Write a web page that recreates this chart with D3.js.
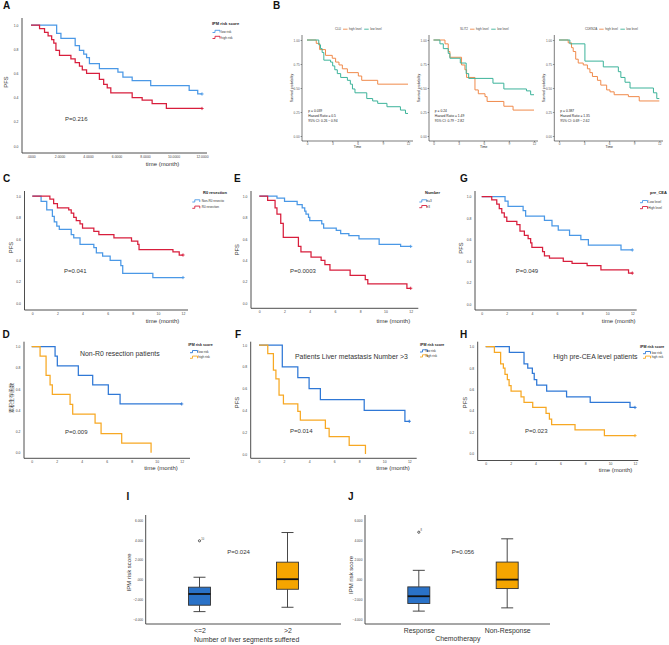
<!DOCTYPE html>
<html><head><meta charset="utf-8">
<script src="https://cdn.jsdelivr.net/npm/d3@7/dist/d3.min.js"></script>
<style>html,body{margin:0;padding:0;background:#fff}svg{display:block}</style>
</head><body>
<svg id="chart" width="669" height="645" xmlns="http://www.w3.org/2000/svg"></svg>
<script>
// ---------------- DATA ----------------
const timeTicks = [0, 2, 4, 6, 8, 10, 12];
const survTicks = [0, 0.2, 0.4, 0.6, 0.8, 1.0];
const ggTimeTicks = [0, 3, 6, 9, 12];
const ggSurvTicks = [0, 0.25, 0.5, 0.75, 1];
const boxTicks = [-4, -2, 0, 2, 4, 6];

// A: IPM risk score
const kmA_low = [[0,1],[1.8,0.93],[2.1,0.89],[3.1,0.83],[3.4,0.79],[3.7,0.76],[3.9,0.73],[4.1,0.68],[4.8,0.64],[6.1,0.61],[6.45,0.57],[7.1,0.54],[8.4,0.50],[11.1,0.46],[11.7,0.43],[12,0.43]];
const kmA_high = [[0,1],[0.6,0.97],[0.95,0.94],[1.2,0.91],[1.45,0.88],[1.6,0.85],[1.75,0.79],[2.0,0.75],[2.8,0.72],[3.1,0.69],[3.4,0.66],[3.6,0.63],[3.9,0.60],[4.8,0.55],[5.1,0.51],[5.35,0.48],[5.6,0.44],[7.1,0.40],[7.8,0.38],[8.5,0.35],[9.5,0.31],[12,0.31]];
// B: three genes (high / low level)
const kmB1_high = [[0,1],[1.1,0.965],[1.5,0.90],[2.2,0.84],[3.0,0.81],[3.4,0.77],[3.8,0.74],[4.2,0.70],[4.8,0.66],[6.1,0.625],[6.5,0.58],[8.4,0.54],[12,0.54]];
const kmB1_low = [[0,1],[1.4,0.95],[1.6,0.91],[1.8,0.87],[2.0,0.79],[2.8,0.77],[3.05,0.73],[3.3,0.69],[3.6,0.65],[4.0,0.61],[4.8,0.58],[5.15,0.54],[5.4,0.49],[5.7,0.45],[7.1,0.39],[7.8,0.365],[8.4,0.34],[9.5,0.305],[11.1,0.27],[11.7,0.235],[12,0.235]];
const kmB2_high = [[0,1],[1.37,0.96],[1.76,0.88],[1.96,0.82],[3.35,0.74],[3.75,0.69],[3.95,0.61],[4.95,0.48],[5.35,0.44],[6.15,0.41],[6.4,0.36],[8.4,0.31],[9.5,0.27],[12,0.27]];
const kmB2_low = [[0,1],[0.77,0.96],[1.17,0.91],[1.76,0.86],[1.96,0.81],[3.2,0.76],[3.9,0.65],[4.2,0.60],[7.1,0.55],[8.4,0.49],[11.1,0.47],[11.6,0.43],[12,0.43]];
const kmB3_high = [[0,1],[1.1,0.97],[1.5,0.92],[1.7,0.88],[2.0,0.80],[2.3,0.76],[2.9,0.74],[3.4,0.70],[3.7,0.66],[4.0,0.62],[4.6,0.58],[5.0,0.53],[5.7,0.48],[6.1,0.46],[6.6,0.43],[8.3,0.41],[9.6,0.365],[12,0.365]];
const kmB3_low = [[0,1],[1.3,0.96],[3.1,0.78],[5.3,0.72],[7.1,0.67],[7.4,0.61],[7.9,0.56],[8.5,0.50],[11.3,0.45],[11.7,0.39],[12,0.39]];
// C: R0 resection
const kmC_nonR0 = [[0,1],[0.7,0.95],[1.15,0.87],[1.6,0.81],[1.75,0.76],[1.95,0.72],[2.15,0.69],[3.1,0.64],[3.3,0.61],[3.8,0.55],[4.9,0.52],[5.1,0.47],[5.6,0.44],[6.2,0.40],[7.05,0.35],[7.2,0.28],[9.6,0.24],[12,0.24]];
const kmC_R0 = [[0,1],[1.4,0.97],[1.7,0.93],[2.0,0.89],[2.9,0.87],[3.1,0.84],[3.3,0.80],[3.5,0.77],[3.8,0.74],[4.0,0.70],[4.9,0.67],[5.3,0.64],[6.5,0.61],[7.9,0.58],[8.4,0.55],[8.5,0.50],[11.2,0.48],[11.7,0.45],[12,0.45]];
// E: Number
const kmE_le3 = [[0,1],[1.4,0.98],[2.0,0.95],[3.0,0.92],[3.4,0.89],[3.6,0.86],[3.7,0.83],[3.9,0.80],[4.0,0.77],[4.95,0.74],[5.1,0.70],[6.1,0.68],[6.45,0.65],[7.1,0.63],[7.9,0.60],[9.5,0.55],[11.2,0.53],[12,0.53]];
const kmE_gt3 = [[0,1],[0.66,0.96],[1.25,0.89],[1.4,0.83],[1.7,0.745],[1.9,0.615],[3.1,0.53],[3.3,0.48],[4.1,0.43],[4.9,0.40],[5.2,0.36],[5.6,0.31],[7.2,0.26],[8.4,0.22],[8.6,0.18],[11.7,0.14],[12,0.14]];
// G: pre_CEA
const kmG_low = [[0,1],[1.86,0.96],[2.1,0.91],[3.3,0.87],[3.5,0.82],[5.0,0.78],[5.6,0.73],[6.1,0.69],[7.0,0.64],[7.9,0.60],[8.5,0.55],[11.1,0.505],[12,0.505]];
const kmG_high = [[0,1],[0.8,0.97],[1.2,0.93],[1.4,0.89],[1.6,0.85],[1.8,0.81],[2.0,0.77],[2.8,0.74],[3.05,0.68],[3.4,0.64],[3.7,0.61],[3.9,0.57],[4.0,0.53],[4.85,0.49],[5.0,0.45],[5.4,0.43],[6.5,0.40],[7.2,0.38],[8.4,0.36],[9.5,0.32],[11.7,0.29],[12,0.29]];
// D: Non-R0 resection patients
const kmD_low = [[0,1],[1.87,0.91],[2.05,0.82],[3.73,0.73],[4.88,0.64],[6.13,0.55],[7.07,0.46],[12,0.46]];
const kmD_high = [[0,1],[0.67,0.91],[1.15,0.73],[1.47,0.64],[1.65,0.55],[3.07,0.455],[3.28,0.365],[5.07,0.28],[5.55,0.18],[7.2,0.09],[9.55,0]];
// F: Liver metastasis number >3
const kmF_low = [[0,1],[1.86,0.80],[3.1,0.70],[4.0,0.60],[4.9,0.50],[8.4,0.40],[11.65,0.30],[12,0.30]];
const kmF_high = [[0,1],[0.7,0.92],[1.15,0.77],[1.35,0.69],[1.6,0.54],[1.95,0.46],[3.1,0.39],[3.3,0.31],[5.3,0.235],[5.6,0.16],[7.2,0.08],[8.5,0]];
// H: High pre-CEA level patients
const kmH_low = [[0,1],[1.9,0.947],[3.08,0.84],[3.38,0.80],[3.75,0.75],[3.9,0.69],[4.1,0.64],[4.9,0.584],[6.5,0.53],[8.4,0.478],[11.6,0.43],[12,0.43]];
const kmH_high = [[0,1],[0.7,0.947],[1.2,0.84],[1.42,0.80],[1.55,0.74],[1.74,0.69],[1.88,0.634],[2.04,0.584],[2.84,0.53],[3.08,0.478],[3.78,0.43],[4.85,0.375],[5.12,0.32],[5.3,0.27],[7.18,0.22],[9.54,0.166],[12,0.166]];

// I / J box plots
const boxI_cats = ['<=2', '>2'];
const boxI_whiskLow = [-3.25, -2.81];
const boxI_q1 = [-2.6, -0.98];
const boxI_median = [-1.46, 0.04];
const boxI_q3 = [-0.77, 1.77];
const boxI_whiskHigh = [0.24, 4.78];
const boxI_outliers = [['<=2', 3.94, '10']];
const boxJ_cats = ['Response', 'Non-Response'];
const boxJ_whiskLow = [-3.2, -2.87];
const boxJ_q1 = [-2.43, -0.91];
const boxJ_median = [-1.69, 0.0];
const boxJ_q3 = [-0.74, 1.78];
const boxJ_whiskHigh = [0.94, 4.14];
const boxJ_outliers = [['Response', 4.81, '8']];

// ---------------- DRAWING ----------------
const FONT = '"Liberation Sans", Arial, Helvetica, sans-serif';
const COL = {
  spBlue: '#4a98e6', spRed: '#d81e3c', dBlue: '#2f78d6', dOrange: '#f7a823',
  ggOrange: '#f08a4b', ggGreen: '#3cb39a', bxBlue: '#2a72c8', bxOrange: '#f5a500'
};
const svg = d3.select('#chart');
svg.append('rect').attr('width', 669).attr('height', 645).attr('fill', '#fff');

function txt(g, x, y, s, size, o = {}) {
  const t = g.append('text').attr('x', x).attr('y', y).text(s)
    .attr('font-size', size).attr('font-family', o.font || FONT).attr('fill', o.fill || '#222');
  if (o.anchor) t.attr('text-anchor', o.anchor);
  if (o.weight) t.attr('font-weight', o.weight);
  if (o.rotate) t.attr('transform', `rotate(-90,${x},${y})`);
  return t;
}

function styleAxisText(sel, size, fill) {
  sel.selectAll('text').attr('font-size', size).attr('font-family', FONT).attr('fill', fill);
}

function kmPanel(o) {
  const g = svg.append('g');
  const x = d3.scaleLinear().domain([0, 12]).range([o.t0, o.t12]);
  const y = d3.scaleLinear().domain([0, 1]).range([o.s0, o.s1]);
  g.append('path').attr('d', `M${o.ax},${o.top}V${o.ay}H${o.right}`)
    .attr('fill', 'none').attr('stroke', '#3a3a3a').attr('stroke-width', 0.9);
  const ya = g.append('g').attr('transform', `translate(${o.ax},0)`)
    .call(d3.axisLeft(y).tickValues(survTicks).tickFormat(d3.format('.1f')).tickSize(0).tickPadding(3.5));
  ya.select('.domain').remove();
  styleAxisText(ya, 3.4, '#444');
  const xa = g.append('g').attr('transform', `translate(0,${o.ay})`)
    .call(d3.axisBottom(x).tickValues(timeTicks).tickFormat(o.xFmt || d3.format('d')).tickSize(0).tickPadding(o.xPad || 2.6));
  xa.select('.domain').remove();
  styleAxisText(xa, 3.4, '#444');
  const line = d3.line().x(d => x(d[0])).y(d => y(d[1])).curve(d3.curveStepAfter);
  o.series.forEach(s => {
    g.append('path').datum(s.data).attr('d', line).attr('fill', 'none')
      .attr('stroke', s.color).attr('stroke-width', 1.25);
    const last = s.data[s.data.length - 1];
    if (last[1] > 0) {
      const cx = x(last[0]), cy = y(last[1]);
      g.append('path').attr('d', `M${cx - 1.6},${cy}h3.2M${cx},${cy - 1.6}v3.2`)
        .attr('stroke', s.color).attr('stroke-width', 0.9);
    }
  });
  // legend
  const L = o.legend;
  txt(g, L.tx, L.ty, L.title, L.titleSize || 4, { weight: 'bold', fill: '#222' });
  L.items.forEach((it, i) => {
    const yy = L.iy[i];
    g.append('path').attr('d', `M${L.sx},${yy + 1}h2.5v-2.2h5v2.2`)
      .attr('fill', 'none').attr('stroke', o.series[i].color).attr('stroke-width', 0.9);
    txt(g, L.lx, yy + 1.1, it, 3.1, { fill: '#333' });
  });
  // labels
  txt(g, o.yLab.x, o.yLab.y, o.yLab.text, o.yLab.size || 5.8, { anchor: 'middle', rotate: true, fill: '#333', font: o.yLab.font });
  txt(g, o.xLab.x, o.xLab.y, 'time (month)', 6, { anchor: 'middle', fill: '#333' });
  txt(g, o.p.x, o.p.y, o.p.text, 6, { fill: '#333' });
  if (o.title) txt(g, o.title.x, o.title.y, o.title.text, 6.9, { fill: '#333' });
}

function ggKM(o) {
  const g = svg.append('g');
  const x = d3.scaleLinear().domain([0, 12]).range([o.t0, o.t12]);
  const y = d3.scaleLinear().domain([0, 1]).range([136, 40]);
  g.append('line').attr('x1', o.ax).attr('x2', o.ax).attr('y1', 35).attr('y2', 141).attr('stroke', '#222').attr('stroke-width', 0.6);
  g.append('line').attr('x1', o.ax).attr('x2', o.right).attr('y1', 141).attr('y2', 141).attr('stroke', '#222').attr('stroke-width', 0.6);
  const ya = g.append('g').attr('transform', `translate(${o.ax},0)`)
    .call(d3.axisLeft(y).tickValues(ggSurvTicks).tickFormat(d3.format('.2f')).tickSize(1.4).tickPadding(1));
  ya.select('.domain').remove();
  ya.selectAll('line').attr('stroke', '#333').attr('stroke-width', 0.5);
  styleAxisText(ya, 3.1, '#555');
  const xa = g.append('g').attr('transform', `translate(0,141)`)
    .call(d3.axisBottom(x).tickValues(ggTimeTicks).tickFormat(d3.format('d')).tickSize(1.4).tickPadding(0.8));
  xa.select('.domain').remove();
  xa.selectAll('line').attr('stroke', '#333').attr('stroke-width', 0.5);
  styleAxisText(xa, 3.1, '#555');
  const line = d3.line().x(d => x(d[0])).y(d => y(d[1])).curve(d3.curveStepAfter);
  [[o.high, COL.ggOrange], [o.low, COL.ggGreen]].forEach(([d, c]) => {
    g.append('path').datum(d).attr('d', line).attr('fill', 'none').attr('stroke', c).attr('stroke-width', 1);
  });
  txt(g, o.ax - 9.5, 88, 'Survival probability', 3.4, { anchor: 'middle', rotate: true, fill: '#222' });
  txt(g, (o.t0 + o.t12) / 2, 148.3, 'Time', 3.4, { anchor: 'middle', fill: '#222' });
  o.stats.forEach((s, i) => txt(g, o.t0 + 1.3, 112 + i * 5, s, 3.3, { fill: '#222' }));
  // legend
  let lx = o.legX;
  const t1 = txt(g, lx, 30.2, o.gene, 3, { fill: '#444' });
  lx += t1.node().getComputedTextLength() + 2;
  [['high level', COL.ggOrange], ['low level', COL.ggGreen]].forEach(([lab, c]) => {
    g.append('line').attr('x1', lx).attr('x2', lx + 4.5).attr('y1', 29.2).attr('y2', 29.2).attr('stroke', c).attr('stroke-width', 0.9);
    lx += 6;
    const t = txt(g, lx, 30.2, lab, 3, { fill: '#444' });
    lx += t.node().getComputedTextLength() + 2.5;
  });
}

function boxPanel(o) {
  const g = svg.append('g');
  const y = d3.scaleLinear().domain([-4, 6]).range([619, 520.5]);
  const x = d3.scalePoint().domain(o.cats).range([o.c0, o.c1]);
  g.append('path').attr('d', `M${o.ax},${o.top}V${o.ay}H${o.right}`)
    .attr('fill', 'none').attr('stroke', '#3a3a3a').attr('stroke-width', 0.9);
  const ya = g.append('g').attr('transform', `translate(${o.ax},0)`)
    .call(d3.axisLeft(y).tickValues(boxTicks).tickFormat(d => d === 0 ? '.000' : d3.format('.3f')(d)).tickSize(0).tickPadding(2.6));
  ya.select('.domain').remove();
  styleAxisText(ya, 3.2, '#444');
  const xa = g.append('g').attr('transform', `translate(0,${o.ay})`)
    .call(d3.axisBottom(x).tickSize(0).tickPadding(4.4));
  xa.select('.domain').remove();
  styleAxisText(xa, 6.9, '#333');
  const bw = 22, cw = 12;
  o.cats.forEach((c, i) => {
    const cx = x(c), fill = i === 0 ? COL.bxBlue : COL.bxOrange;
    g.append('line').attr('x1', cx).attr('x2', cx).attr('y1', y(o.wh[i])).attr('y2', y(o.q3[i])).attr('stroke', '#333').attr('stroke-width', 0.9);
    g.append('line').attr('x1', cx).attr('x2', cx).attr('y1', y(o.q1[i])).attr('y2', y(o.wl[i])).attr('stroke', '#333').attr('stroke-width', 0.9);
    [o.wh[i], o.wl[i]].forEach(v => g.append('line').attr('x1', cx - cw / 2).attr('x2', cx + cw / 2)
      .attr('y1', y(v)).attr('y2', y(v)).attr('stroke', '#333').attr('stroke-width', 0.9));
    g.append('rect').attr('x', cx - bw / 2).attr('width', bw).attr('y', y(o.q3[i]))
      .attr('height', y(o.q1[i]) - y(o.q3[i])).attr('fill', fill).attr('stroke', '#333').attr('stroke-width', 0.9);
    g.append('line').attr('x1', cx - bw / 2).attr('x2', cx + bw / 2).attr('y1', y(o.med[i])).attr('y2', y(o.med[i]))
      .attr('stroke', '#111').attr('stroke-width', 1.8);
  });
  o.out.forEach(([c, v, lab]) => {
    g.append('circle').attr('cx', x(c)).attr('cy', y(v)).attr('r', 1.1).attr('fill', 'none').attr('stroke', '#333').attr('stroke-width', 0.8);
    txt(g, x(c) + 1.8, y(v) - 1.2, lab, 2.6, { fill: '#444' });
  });
  txt(g, o.p.x, o.p.y, o.p.text, 6, { fill: '#333' });
  txt(g, o.xt.x, o.xt.y, o.xt.text, 6.9, { anchor: 'middle', fill: '#333' });
  txt(g, o.yt.x, o.yt.y, 'IPM risk score', 6, { anchor: 'middle', rotate: true, fill: '#333' });
}

// Panel letters
[['A', 3, 9.3], ['B', 273, 9.3], ['C', 3, 182], ['E', 234, 182], ['G', 460, 182],
 ['D', 2.5, 337.5], ['F', 235, 337.5], ['H', 460, 337.5], ['I', 126.5, 500], ['J', 348, 500]]
  .forEach(([s, x, y]) => txt(svg, x, y, s, 10, { weight: 'bold', fill: '#111' }));

const fmt4 = d => d === 0 ? '.0000' : d3.format('.4f')(d);

// A
kmPanel({ ax: 22, ay: 153, top: 18, right: 207, t0: 31, t12: 202, s0: 146, s1: 25, xFmt: fmt4,
  series: [{ data: kmA_low, color: COL.spBlue }, { data: kmA_high, color: COL.spRed }],
  legend: { tx: 212, ty: 25.3, title: 'IPM risk score', iy: [31.5, 37.5], sx: 212.5, lx: 221, items: ['low risk', 'high risk'] },
  yLab: { x: 7.5, y: 82, text: 'PFS' }, xLab: { x: 162.5, y: 166 }, p: { x: 65, y: 120.5, text: 'P=0.216' } });

// B
ggKM({ ax: 302, right: 413, t0: 307, t12: 408, high: kmB1_high, low: kmB1_low, gene: 'CLU', legX: 335,
  stats: ['p = 0.039', 'Hazard Ratio = 0.5', '95% CI: 0.26 ~ 0.94'] });
ggKM({ ax: 429, right: 538, t0: 433.5, t12: 534, high: kmB2_high, low: kmB2_low, gene: 'SLIT2', legX: 460,
  stats: ['p = 0.24', 'Hazard Ratio = 1.49', '95% CI: 0.79 ~ 2.82'] });
ggKM({ ax: 554.3, right: 663, t0: 559, t12: 659.3, high: kmB3_high, low: kmB3_low, gene: 'CDKN2A', legX: 585,
  stats: ['p = 0.387', 'Hazard Ratio = 1.35', '95% CI: 0.69 ~ 2.62'] });

// C
kmPanel({ ax: 24.5, ay: 310, top: 191, right: 188, t0: 32.3, t12: 183, s0: 303.3, s1: 196,
  series: [{ data: kmC_nonR0, color: COL.spBlue }, { data: kmC_R0, color: COL.spRed }],
  legend: { tx: 203, ty: 193.5, title: 'R0 resection', iy: [201, 207.3], sx: 192.3, lx: 201.7, items: ['Non-R0 resectio', 'R0 resection'] },
  yLab: { x: 12.5, y: 247.5, text: 'PFS' }, xLab: { x: 162.5, y: 323 }, p: { x: 64, y: 273, text: 'P=0.041' } });

// E
kmPanel({ ax: 251, ay: 308.3, top: 191, right: 418.3, t0: 259.3, t12: 410.7, s0: 303.3, s1: 196,
  series: [{ data: kmE_le3, color: COL.spBlue }, { data: kmE_gt3, color: COL.spRed }],
  legend: { tx: 425, ty: 193.5, title: 'Number', iy: [201, 206.7], sx: 419.3, lx: 426.5, items: ['<=3', '>3'] },
  yLab: { x: 239, y: 249.7, text: 'PFS' }, xLab: { x: 393.3, y: 323 }, p: { x: 290, y: 273, text: 'P=0.0003' } });

// G
kmPanel({ ax: 475, ay: 310, top: 191, right: 636.7, t0: 481.7, t12: 632.3, s0: 304.3, s1: 196.7,
  series: [{ data: kmG_low, color: COL.spBlue }, { data: kmG_high, color: COL.spRed }],
  legend: { tx: 650, ty: 193.5, title: 'pre_CEA', iy: [201.7, 207.7], sx: 640, lx: 648.3, items: ['Low level', 'High level'] },
  yLab: { x: 463, y: 248, text: 'PFS' }, xLab: { x: 618.7, y: 323 }, p: { x: 515.7, y: 273, text: 'P=0.049' } });

// D
kmPanel({ ax: 24, ay: 458.3, top: 341.7, right: 190, t0: 31.7, t12: 181.7, s0: 452.7, s1: 346.7,
  series: [{ data: kmD_low, color: COL.dBlue }, { data: kmD_high, color: COL.dOrange }],
  legend: { tx: 188.3, ty: 345.8, title: 'IPM risk score', titleSize: 3.6, iy: [351.7, 357.3], sx: 190, lx: 198.3, items: ['low risk', 'high risk'] },
  yLab: { x: 13.3, y: 398, text: '累积生存函数', size: 5, font: '"Noto Sans CJK SC", sans-serif' },
  xLab: { x: 161, y: 470 }, p: { x: 65, y: 433.5, text: 'P=0.009' },
  title: { x: 80, y: 356, text: 'Non-R0 resection patients' } });

// F
kmPanel({ ax: 250.7, ay: 458.3, top: 341.7, right: 416.7, t0: 259, t12: 409.3, s0: 454, s1: 345,
  series: [{ data: kmF_low, color: COL.dBlue }, { data: kmF_high, color: COL.dOrange }],
  legend: { tx: 420, ty: 345.8, title: 'IPM risk score', titleSize: 3.6, iy: [351, 356], sx: 420, lx: 425.5, items: ['low risk', 'high risk'] },
  yLab: { x: 239, y: 402.5, text: 'PFS' }, xLab: { x: 393, y: 470 }, p: { x: 290, y: 433.3, text: 'P=0.014' },
  title: { x: 295, y: 358.5, text: 'Patients Liver metastasis Number >3' } });

// H
kmPanel({ ax: 477.7, ay: 460.5, top: 341.7, right: 638.3, t0: 485.7, t12: 635, s0: 453.3, s1: 346.7, xPad: 1.6,
  series: [{ data: kmH_low, color: COL.dBlue }, { data: kmH_high, color: COL.dOrange }],
  legend: { tx: 640, ty: 347.5, title: 'IPM risk score', titleSize: 3.6, iy: [352.7, 357.3], sx: 643, lx: 651.7, items: ['low risk', 'high risk'] },
  yLab: { x: 466.7, y: 402.5, text: 'PFS' }, xLab: { x: 615.5, y: 471.5 }, p: { x: 525, y: 433.3, text: 'P=0.023' },
  title: { x: 553.3, y: 358.5, text: 'High pre-CEA level patients' } });

// I
boxPanel({ ax: 145.7, ay: 624, top: 515, right: 341, cats: boxI_cats, c0: 199.5, c1: 287.5,
  wl: boxI_whiskLow, q1: boxI_q1, med: boxI_median, q3: boxI_q3, wh: boxI_whiskHigh, out: boxI_outliers,
  p: { x: 227.3, y: 554, text: 'P=0.024' },
  xt: { x: 246.7, y: 641.5, text: 'Number of liver segments suffered' }, yt: { x: 130.7, y: 572.5 } });

// J
boxPanel({ ax: 365, ay: 624, top: 515, right: 550, cats: boxJ_cats, c0: 418.8, c1: 507.2,
  wl: boxJ_whiskLow, q1: boxJ_q1, med: boxJ_median, q3: boxJ_q3, wh: boxJ_whiskHigh, out: boxJ_outliers,
  p: { x: 451.7, y: 554, text: 'P=0.056' },
  xt: { x: 457.8, y: 641.3, text: 'Chemotherapy' }, yt: { x: 353.3, y: 575 } });
</script>
</body></html>
